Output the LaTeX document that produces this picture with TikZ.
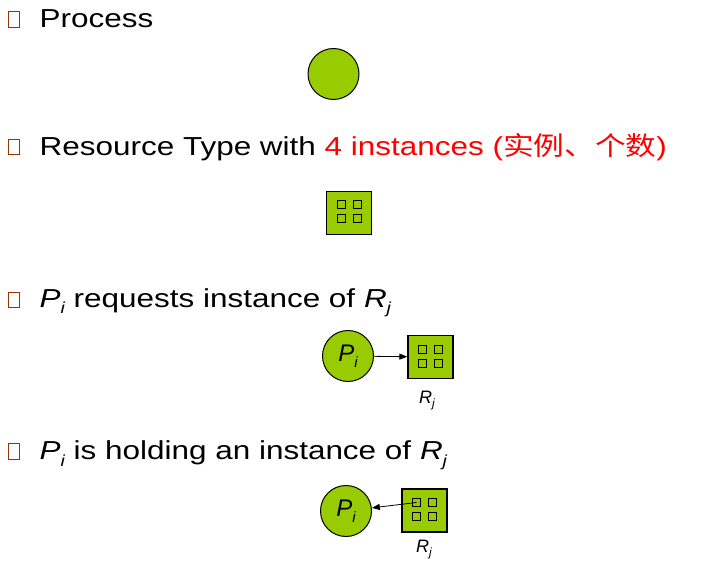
\documentclass[tikz,border=0pt]{standalone}
\usepackage{fontspec}
\setmainfont{Liberation Sans}[FakeStretch=1.21]
\newfontfamily\plainsans{Liberation Sans}
\newfontfamily\cjk{Noto Sans CJK SC}[FakeStretch=1.18]
\usetikzlibrary{arrows.meta}
\definecolor{pgreen}{HTML}{99CC00}
\definecolor{bulletbrown}{HTML}{993300}
\newcommand{\mysub}[3]{\raisebox{-#1pt}{\fontsize{#2}{#2}\selectfont #3}}
\tikzset{
  bul/.style={draw=bulletbrown, line width=1.4pt, minimum width=10.5pt, minimum height=15.5pt, inner sep=0pt},
  txt/.style={anchor=base west, inner sep=0pt, font=\fontsize{26}{30}\selectfont},
  proc/.style={circle, draw=black, line width=1pt, fill=pgreen, minimum size=51pt, inner sep=0pt,
               font=\plainsans\itshape\fontsize{24}{28}\selectfont},
  res/.style={rectangle, draw=black, line width=1.3pt, fill=pgreen, minimum width=45pt, minimum height=43pt, inner sep=0pt},
  inst/.style={rectangle, draw=black, line width=1pt, minimum width=8pt, minimum height=8pt, inner sep=0pt},
  rlbl/.style={anchor=base west, inner sep=0pt, font=\plainsans\itshape\fontsize{18}{21}\selectfont},
  arr/.style={draw=black, line width=0.8pt, -{Triangle[length=8pt,width=6pt]}}
}
\begin{document}
\begin{tikzpicture}[x=1pt, y=-1pt]
\useasboundingbox (0,0) rectangle (702,564);

% line 1
\node[bul] (b1) at (14,19.5) {};
\node[txt] (l1) at (39.5,27.5) {Process};
\node[proc] (p0) at (333.5,74) {};

% line 2
\node[bul] (b2) at (14,147) {};
\node[txt] (l2) at (39.5,155.5) {Resource Type with \textcolor{red}{4 instances ({\cjk 实例、个数})}};
\node[res] (r0) at (349,213) {};
\node[inst] (s0a) at ([shift={(-8,-8)}]r0.center) {};
\node[inst] (s0b) at ([shift={(8,-8)}]r0.center) {};
\node[inst] (s0c) at ([shift={(-8,6)}]r0.center) {};
\node[inst] (s0d) at ([shift={(8,6)}]r0.center) {};

% line 3
\node[bul] (b3) at (14,300) {};
\node[txt] (l3) at (39.5,307.5) {\itshape P\mysub{6.5}{16}{i}\upshape{} requests instance of \itshape R\mysub{6.5}{16}{j}};
\node[proc] (p1) at (348,356) {P\mysub{5.5}{15}{i}};
\node[res] (r1) at (430.5,357) {};
\node[inst] (s1a) at ([shift={(-8,-8)}]r1.center) {};
\node[inst] (s1b) at ([shift={(8,-8)}]r1.center) {};
\node[inst] (s1c) at ([shift={(-8,6)}]r1.center) {};
\node[inst] (s1d) at ([shift={(8,6)}]r1.center) {};
\node[rlbl] (rl1) at (419,403) {R\mysub{4.5}{12}{j}};
\draw[arr] (p1) -- (r1);

% line 4
\node[bul] (b4) at (14,451.5) {};
\node[txt] (l4) at (39.5,459.5) {\itshape P\mysub{6.5}{16}{i}\upshape{} is holding an instance of \itshape R\mysub{6.5}{16}{j}};
\node[proc] (p2) at (346,511) {P\mysub{5.5}{15}{i}};
\node[res] (r2) at (424.5,510.5) {};
\node[inst] (s2a) at ([shift={(-8,-8)}]r2.center) {};
\node[inst] (s2b) at ([shift={(8,-8)}]r2.center) {};
\node[inst] (s2c) at ([shift={(-8,6)}]r2.center) {};
\node[inst] (s2d) at ([shift={(8,6)}]r2.center) {};
\node[rlbl] (rl2) at (416,552) {R\mysub{4.5}{12}{j}};
\draw[arr] (s2a.center) -- (p2);
\end{tikzpicture}
\end{document}
